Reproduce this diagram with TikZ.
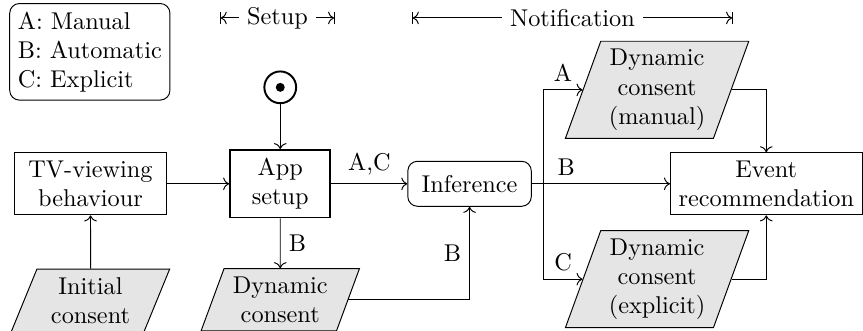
\documentclass[tikz,border=0pt]{standalone}
\usetikzlibrary{arrows.meta,calc,shapes,positioning}

\begin{document}
\begin{tikzpicture}[
    block/.style={rectangle, draw, text centered, align=center},
    process/.style={rectangle, draw, thick, align=center, minimum width=1.45cm},
    infer/.style={rectangle, draw, rounded corners, inner sep=0.2cm},
    consent/.style={trapezium, trapezium left angle=70, trapezium right angle=110, trapezium stretches=true,
        draw, fill=gray!20, align=center, minimum width=2.3cm},
    startnode/.style={circle, draw, thick, minimum size=0.46cm, inner sep=0pt,
        path picture={\fill (path picture bounding box.center) circle (0.065cm);}},
    line/.style={draw, ->},
    phase/.style={draw, |<->|},
]
\useasboundingbox (0,0) rectangle (12.49,4.79);

% Blocks
\node[block, minimum width=2.2cm] (tv) at (1.31,2.13) {TV-viewing\\behaviour};
\node[process, right=0.9cm of tv] (app) {App\\setup};
\node[startnode, above=0.65cm of app] (start) {};
\node[infer, right=1.1cm of app] (inference) {Inference};
\node[block, right=2cm of inference] (event) {Event\\recommendation};
\node[consent, below=0.77cm of tv] (initial) {Initial\\consent};
\node[consent, below=0.72cm of app] (dynsetup) {Dynamic\\consent};
\node[consent] (dynmanual) at (9.51,3.49) {Dynamic\\consent\\(manual)};
\node[consent] (dynexplicit) at (9.51,0.75) {Dynamic\\consent\\(explicit)};
\node[draw, rounded corners, align=left] (legend) at (1.30,4.04) {A: Manual\\B: Automatic\\C: Explicit};

% Phases
\coordinate (setupL) at (3.18,4.53);
\coordinate (setupR) at (4.85,4.53);
\coordinate (notifL) at (5.96,4.53);
\coordinate (notifR) at (10.61,4.53);
\draw[phase] (setupL) -- node[fill=white] {Setup} (setupR);
\draw[phase] (notifL) -- node[fill=white] {Notification} (notifR);

% Lines
\coordinate (split) at ($(inference.east)+(0.17,0)$);
\draw[line] (start) -- (app);
\draw[line] (tv) -- (app);
\draw[line] (initial) -- (tv);
\draw[line] (app) -- node[above] {A,C} (inference);
\draw[line] (app) -- node[right] {B} (dynsetup);
\draw[line] (dynsetup) -| node[pos=0.75, left] {B} (inference);
\draw[line] (inference) -- node[pos=0.25, above] {B} (event);
\draw[line] (split) |- node[pos=0.75, above] {A} (dynmanual);
\draw[line] (split) |- node[pos=0.75, above] {C} (dynexplicit);
\draw[line] (dynmanual) -| (event);
\draw[line] (dynexplicit) -| (event);

\end{tikzpicture}
\end{document}
